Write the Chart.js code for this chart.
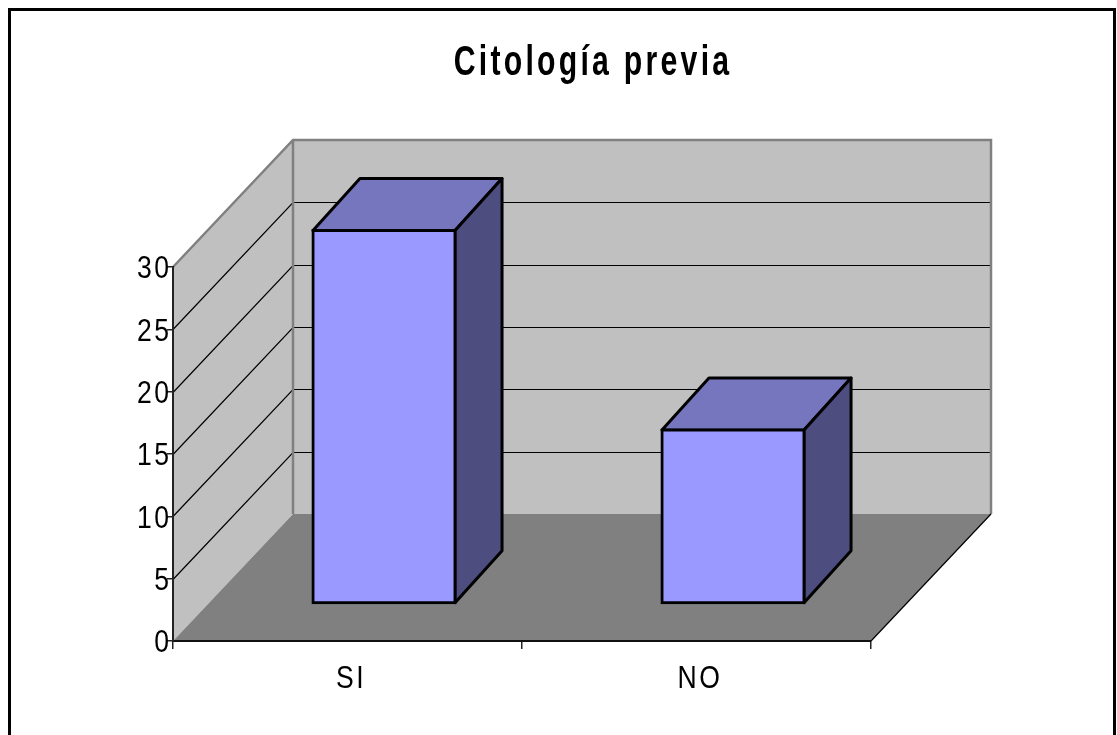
<!DOCTYPE html>
<html>
<head>
<meta charset="utf-8">
<title>Citología previa</title>
<script src="https://cdn.jsdelivr.net/npm/chart.js@4"></script>
<style>
    body { margin: 0; background: #fff; }
    canvas { display: block; }
</style>
</head>
<body>
<canvas id="chart1" width="1117" height="735"></canvas>
<script>
var categories = ["SI", "NO"];
var values = [30, 14];
var yMax = 30;
var yStep = 5;

// fake 3d: depth of the box and of the bars, bars sit inside the box
var wallDx = 120, wallDy = -127;
var barDx = 47, barDy = -52;
var barShiftX = 36.5, barShiftY = -37;

function poly(ctx, pts, fill) {
    ctx.beginPath();
    ctx.moveTo(pts[0][0], pts[0][1]);
    for (var i = 1; i < pts.length; i++) {
        ctx.lineTo(pts[i][0], pts[i][1]);
    }
    ctx.closePath();
    if (fill) {
        ctx.fillStyle = fill;
        ctx.fill();
    }
}

// the original text is squeezed and spaced out, no narrow font here so do it on the context
function squeezeText(ctx) {
    var fillText = ctx.fillText;
    ctx.fillText = function (text, x, y) {
        var bold = this.font.indexOf("bold") >= 0;
        this.save();
        this.letterSpacing = bold ? "4.5px" : "3px";
        this.translate(x, y);
        this.scale(bold ? 0.72 : 0.83, 1);
        fillText.call(this, text, 0, 0);
        this.restore();
    };
}

var box3d = {
    id: "box3d",
    afterLayout: function (chart) {
        // title is centred over the back wall, not over the axis
        chart.titleBlock.left += 157.5;
        chart.titleBlock.right += 157.5;
    },
    beforeDraw: function (chart) {
        var ctx = chart.ctx;
        var a = chart.chartArea;
        var y = chart.scales.y;

        ctx.save();
        // outer frame, runs off the bottom of the picture
        ctx.strokeStyle = "#000";
        ctx.lineWidth = 3;
        ctx.strokeRect(9.5, 9.5, 1105, 740);

        poly(ctx, [[a.left, a.top], [a.left + wallDx, a.top + wallDy], [a.left + wallDx, a.bottom + wallDy], [a.left, a.bottom]], "#c0c0c0");
        poly(ctx, [[a.left + wallDx, a.top + wallDy], [a.right + wallDx, a.top + wallDy], [a.right + wallDx, a.bottom + wallDy], [a.left + wallDx, a.bottom + wallDy]], "#c0c0c0");
        poly(ctx, [[a.left, a.bottom], [a.left + wallDx, a.bottom + wallDy], [a.right + wallDx, a.bottom + wallDy], [a.right, a.bottom]], "#808080");

        // grid lines on both walls
        ctx.strokeStyle = "#000";
        ctx.lineWidth = 1.2;
        for (var v = yStep; v < yMax; v += yStep) {
            var py = Math.round(y.getPixelForValue(v)) + 0.5;
            ctx.beginPath();
            ctx.moveTo(a.left, py);
            ctx.lineTo(a.left + wallDx, py + wallDy);
            ctx.lineTo(a.right + wallDx, py + wallDy);
            ctx.stroke();
        }

        // wall edges
        ctx.strokeStyle = "#808080";
        ctx.lineWidth = 2.5;
        ctx.beginPath();
        ctx.moveTo(a.left, a.top);
        ctx.lineTo(a.left + wallDx, a.top + wallDy);
        ctx.lineTo(a.right + wallDx, a.top + wallDy);
        ctx.lineTo(a.right + wallDx, a.bottom + wallDy);
        ctx.moveTo(a.left + wallDx, a.top + wallDy);
        ctx.lineTo(a.left + wallDx, a.bottom + wallDy);
        ctx.stroke();

        ctx.strokeStyle = "#000";
        ctx.lineWidth = 1.2;
        ctx.beginPath();
        ctx.moveTo(a.right, a.bottom);
        ctx.lineTo(a.right + wallDx, a.bottom + wallDy);
        ctx.stroke();
        ctx.restore();
    },
    beforeDatasetDraw: function (chart, args) {
        var ctx = chart.ctx;
        ctx.save();
        ctx.translate(barShiftX, barShiftY);
        ctx.strokeStyle = "#000";
        ctx.lineWidth = 3;
        ctx.lineJoin = "round";
        args.meta.data.forEach(function (bar) {
            var l = bar.x - bar.width / 2 + 0.5, r = bar.x + bar.width / 2 - 0.5;
            var t = bar.y + 0.5, b = bar.base - 0.5;
            poly(ctx, [[l, t], [l + barDx, t + barDy], [r + barDx, t + barDy], [r, t]], "#7676bf");
            ctx.stroke();
            poly(ctx, [[r, t], [r + barDx, t + barDy], [r + barDx, b + barDy], [r, b]], "#4d4d80");
            ctx.stroke();
        });
    },
    afterDatasetDraw: function (chart) {
        chart.ctx.restore();
    }
};

var ctx = document.getElementById("chart1");
squeezeText(ctx.getContext("2d"));
var myChart = new Chart(ctx, {
    type: "bar",
    data: {
        labels: categories,
        datasets: [{
            data: values,
            backgroundColor: "#9999ff",
            borderColor: "#000",
            borderWidth: 3,
            borderSkipped: false,
            inflateAmount: 1,
            barPercentage: 0.41,
            categoryPercentage: 1,
            clip: false
        }]
    },
    options: {
        responsive: false,
        animation: false,
        layout: { padding: { left: 0, right: 246, top: 0, bottom: 0 } },
        plugins: {
            legend: { display: false },
            tooltip: { enabled: false },
            title: {
                display: true,
                text: "Citología previa",
                color: "#000",
                font: { family: "'Liberation Sans'", size: 42, weight: "bold", lineHeight: 1.2 },
                padding: { top: 38, bottom: 178.6 }
            }
        },
        scales: {
            x: {
                afterFit: function (s) { s.height = 94; },
                grid: { offset: true, drawOnChartArea: false, drawTicks: true, tickLength: 8, tickColor: "#222", lineWidth: 1.5 },
                border: { color: "#111", width: 2 },
                ticks: {
                    color: "#000",
                    padding: 11,
                    labelOffset: 3.5,
                    autoSkip: false,
                    maxRotation: 0,
                    font: { family: "'Liberation Sans'", size: 32 }
                }
            },
            y: {
                min: 0,
                max: yMax,
                afterFit: function (s) { s.width = 173; },
                grid: { drawOnChartArea: false, drawTicks: true, tickLength: 6, tickColor: "#222", lineWidth: 1.5 },
                border: { color: "#222", width: 2 },
                ticks: {
                    stepSize: yStep,
                    color: "#000",
                    padding: -4.5,
                    labelOffset: 2.5,
                    font: { family: "'Liberation Sans'", size: 32 }
                }
            }
        }
    },
    plugins: [box3d]
});
</script>
</body>
</html>
